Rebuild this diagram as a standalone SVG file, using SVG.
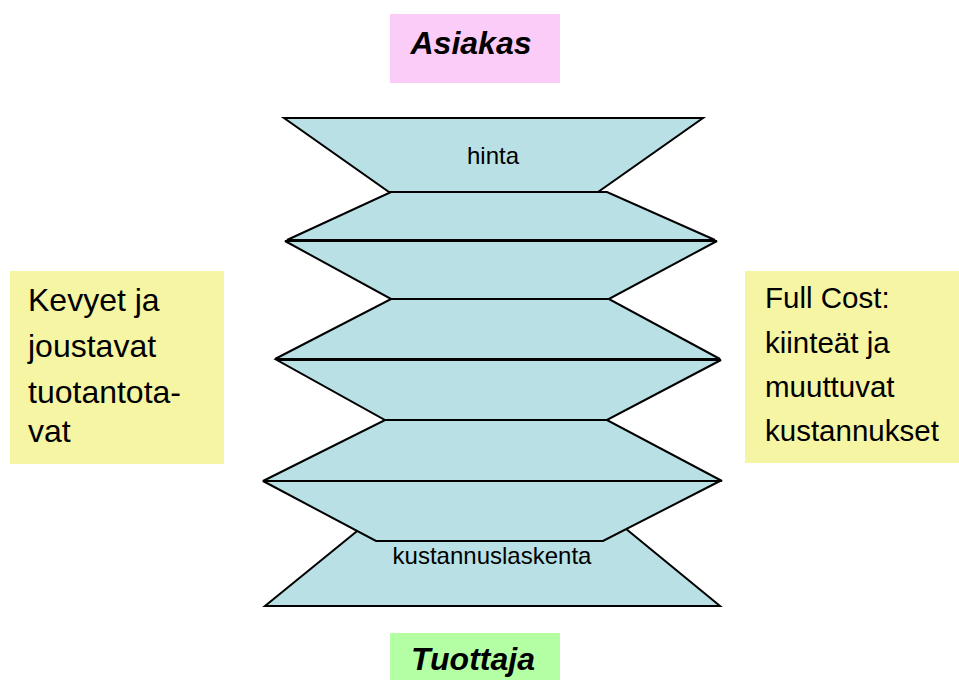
<svg xmlns="http://www.w3.org/2000/svg" width="959" height="680" viewBox="0 0 959 680">
<style>
.layer{fill:#B9E0E4;stroke:#000;stroke-width:2;stroke-linejoin:miter}
.t{font-family:"Liberation Sans",Arial,sans-serif;fill:#000}
.lbl{font-size:24px;text-anchor:middle}
.left{font-size:32px}
.right{font-size:29.5px}
.title{font-size:32px;font-weight:bold;font-style:italic;text-anchor:middle}
</style>
<rect width="959" height="680" fill="#fff"/>
<g id="asiakas">
<rect x="390" y="14" width="170" height="69" fill="#FCCCF8"/>
<text class="t title" x="471" y="54">Asiakas</text>
</g>
<g id="tuottaja">
<rect x="390" y="633" width="170" height="47" fill="#B4FFA4"/>
<text class="t title" x="473" y="670">Tuottaja</text>
</g>
<g id="kevyet">
<rect x="10" y="271" width="214" height="193" fill="#F5F5A3"/>
<text class="t left" x="28" y="311">Kevyet ja</text>
<text class="t left" x="28" y="357">joustavat</text>
<text class="t left" x="28" y="403">tuotantota-</text>
<text class="t left" x="28" y="442">vat</text>
</g>
<g id="fullcost">
<rect x="745" y="271" width="214" height="192" fill="#F5F5A3"/>
<text class="t right" x="765" y="308">Full Cost:</text>
<text class="t right" x="765" y="353">kiinteät ja</text>
<text class="t right" x="765" y="397">muuttuvat</text>
<text class="t right" x="765" y="441">kustannukset</text>
</g>
<g id="funnel">
<polygon id="layer-bottom" class="layer" points="383,510 603,510 720,606 265,606"/>
<polygon id="layer-1" class="layer" points="284,118 703,118 598,192 389,192"/>
<polygon id="layer-2" class="layer" points="391,192 607,192 715,240 287,240"/>
<polygon id="layer-3" class="layer" points="285,241 717,241 609,299 391,299"/>
<polygon id="layer-4" class="layer" points="391,299 609,299 720,359 275,359"/>
<polygon id="layer-5" class="layer" points="277,360 721,360 607,420 385,420"/>
<polygon id="layer-6" class="layer" points="385,420 607,420 722,481 263,481"/>
<polygon id="layer-7" class="layer" points="263,481 720,481 603,541 376,541"/>
<text class="t lbl" x="493" y="164">hinta</text>
<text class="t lbl" x="492" y="564">kustannuslaskenta</text>
</g>
<g id="connectors"/>
</svg>
